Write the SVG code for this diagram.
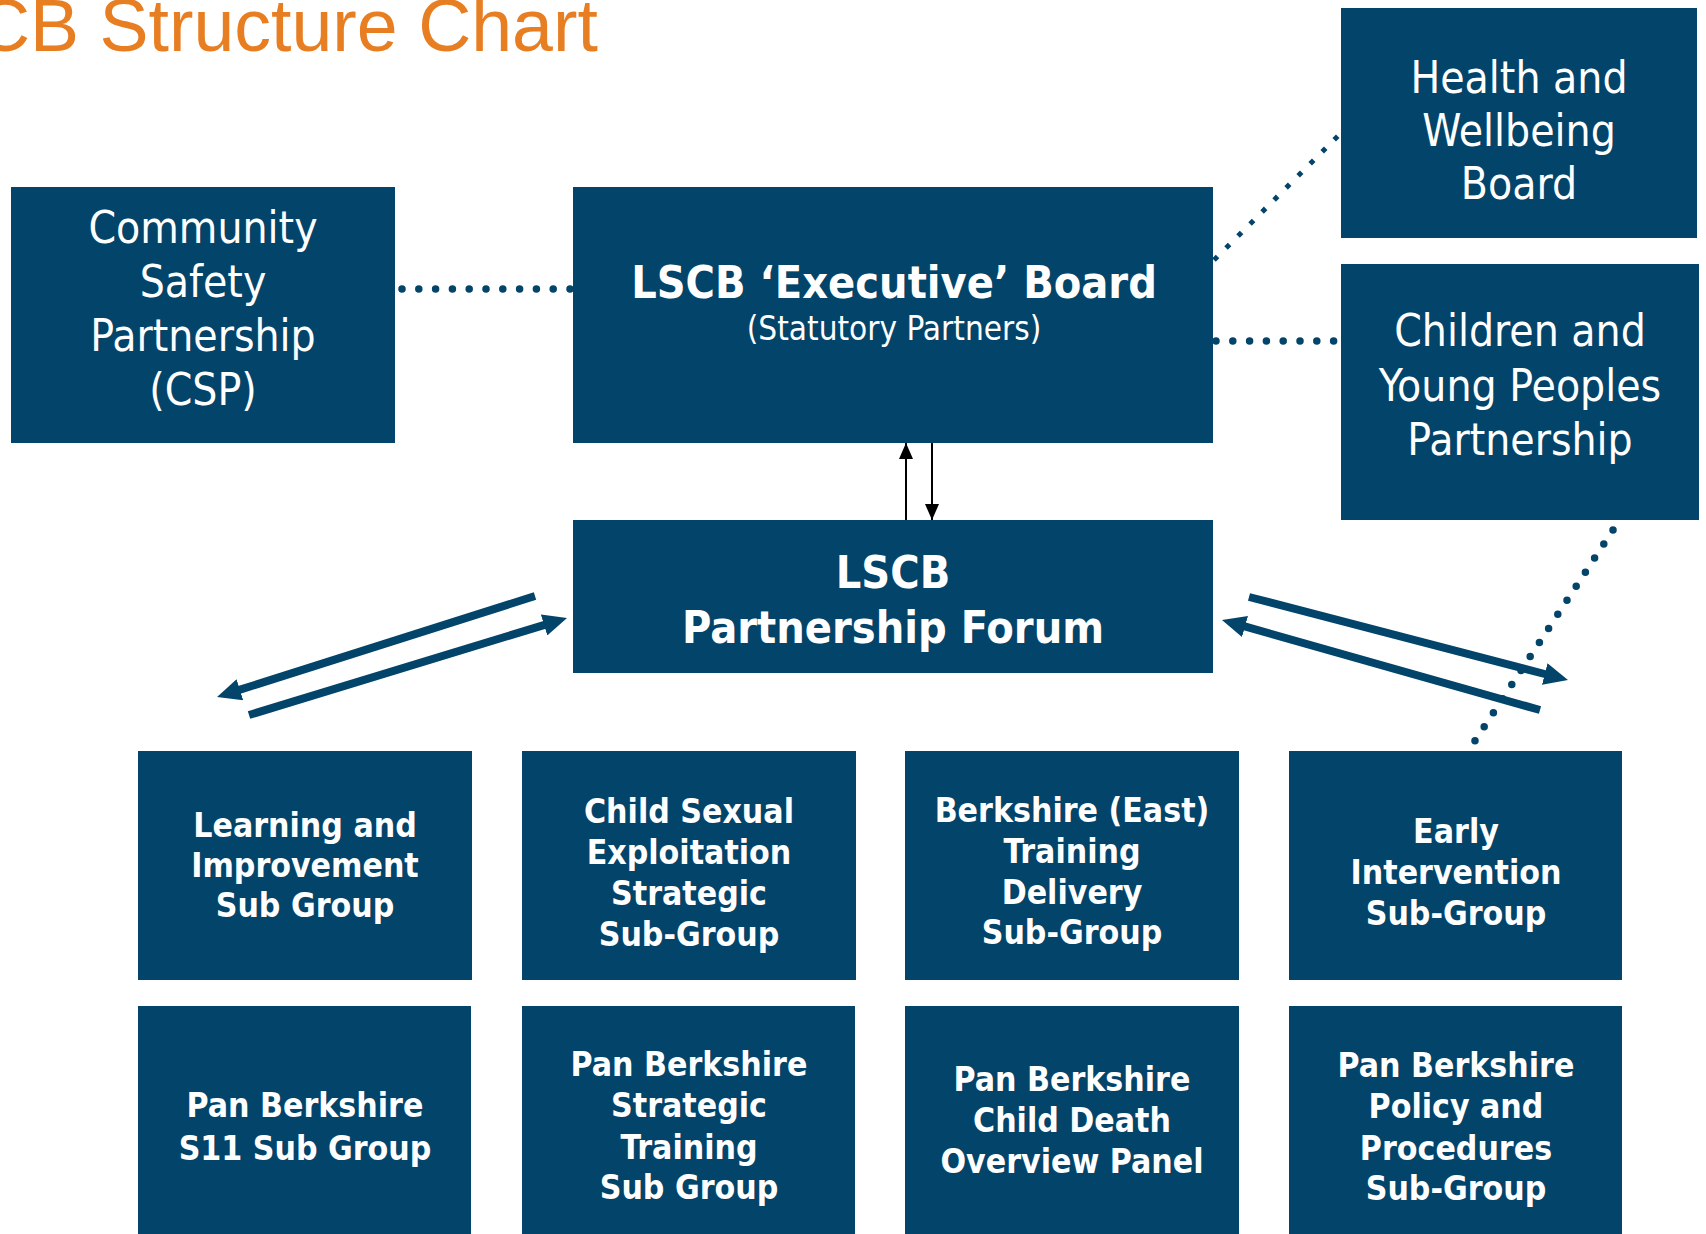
<svg xmlns="http://www.w3.org/2000/svg" width="1706" height="1234" viewBox="0 0 1706 1234">
<defs>
<style>
.box{fill:#03446A}
.t{fill:#fff;font-family:'DejaVu Sans Condensed','DejaVu Sans',sans-serif;text-anchor:middle}
.r{font-size:44px}
.s{font-size:33px}
.b{font-weight:bold;font-size:33.5px}
.h{font-weight:bold;font-size:44.6px}
.dotR{stroke:#03446A;stroke-width:7.5;stroke-linecap:round;stroke-dasharray:0 16.8;fill:none}
.dotS{stroke:#03446A;stroke-width:5;stroke-dasharray:5 12;fill:none}
.thick{stroke:#03446A;stroke-width:8;fill:none;marker-end:url(#bigArrow)}
.thin{stroke:#000;stroke-width:2;fill:none;marker-end:url(#smallArrow)}
</style>
<marker id="bigArrow" markerUnits="userSpaceOnUse" viewBox="0 0 24 22" markerWidth="24" markerHeight="22" refX="4" refY="11" orient="auto">
<path d="M0,0 L24,11 L0,22 z" fill="#03446A"/>
</marker>
<marker id="smallArrow" markerUnits="userSpaceOnUse" viewBox="0 0 16 14" markerWidth="16" markerHeight="14" refX="16" refY="7" orient="auto">
<path d="M0,0 L16,7 L0,14 z" fill="#000"/>
</marker>
</defs>
<rect width="1706" height="1234" fill="#fff"/>
<text x="-23" y="51" font-family="'Liberation Sans',Arial,sans-serif" font-size="73.5" fill="#E87E22">CB Structure Chart</text>

<g id="connectors">
<path class="dotR" d="M402,289 L573,289"/>
<path class="dotS" d="M1214,260 L1340,134"/>
<path class="dotR" d="M1216,341 L1341,341"/>
<path class="dotR" d="M1613,530 L1469,750"/>
<path class="thin" d="M906,520 L906,443"/>
<path class="thin" d="M932,443 L932,520"/>
<path class="thick" d="M535,596 L236.1,690.9"/>
<path class="thick" d="M249,715 L547.9,623.8"/>
<path class="thick" d="M1249,597 L1548.6,675"/>
<path class="thick" d="M1540,710 L1241.2,625.4"/>
</g>

<g id="csp">
<rect class="box" x="11" y="187" width="384" height="256"/>
<text class="t r" x="203" y="243">Community</text>
<text class="t r" x="203" y="297">Safety</text>
<text class="t r" x="203" y="351">Partnership</text>
<text class="t r" x="203" y="405">(CSP)</text>
</g>

<g id="executive-board">
<rect class="box" x="573" y="187" width="640" height="256"/>
<text class="t h" x="894" y="298">LSCB ‘Executive’ Board</text>
<text class="t s" x="894" y="340">(Statutory Partners)</text>
</g>

<g id="hwb">
<rect class="box" x="1341" y="8" width="356" height="230"/>
<text class="t r" x="1519" y="93">Health and</text>
<text class="t r" x="1519" y="146">Wellbeing</text>
<text class="t r" x="1519" y="199">Board</text>
</g>

<g id="cypp">
<rect class="box" x="1341" y="264" width="358" height="256"/>
<text class="t r" x="1520" y="346">Children and</text>
<text class="t r" x="1520" y="401">Young Peoples</text>
<text class="t r" x="1520" y="455">Partnership</text>
</g>

<g id="forum">
<rect class="box" x="573" y="520" width="640" height="153"/>
<text class="t h" x="893" y="588">LSCB</text>
<text class="t h" x="893" y="643">Partnership Forum</text>
</g>

<g id="learning">
<rect class="box" x="138" y="751" width="334" height="229"/>
<text class="t b" x="305" y="837">Learning and</text>
<text class="t b" x="305" y="877">Improvement</text>
<text class="t b" x="305" y="917">Sub Group</text>
</g>

<g id="cse">
<rect class="box" x="522" y="751" width="334" height="229"/>
<text class="t b" x="689" y="823">Child Sexual</text>
<text class="t b" x="689" y="864">Exploitation</text>
<text class="t b" x="689" y="905">Strategic</text>
<text class="t b" x="689" y="946">Sub-Group</text>
</g>

<g id="berkshire-east">
<rect class="box" x="905" y="751" width="334" height="229"/>
<text class="t b" x="1072" y="822">Berkshire (East)</text>
<text class="t b" x="1072" y="863">Training</text>
<text class="t b" x="1072" y="904">Delivery</text>
<text class="t b" x="1072" y="944">Sub-Group</text>
</g>

<g id="early-intervention">
<rect class="box" x="1289" y="751" width="333" height="229"/>
<text class="t b" x="1456" y="843">Early</text>
<text class="t b" x="1456" y="884">Intervention</text>
<text class="t b" x="1456" y="925">Sub-Group</text>
</g>

<g id="s11">
<rect class="box" x="138" y="1006" width="333" height="240"/>
<text class="t b" x="305" y="1117">Pan Berkshire</text>
<text class="t b" x="305" y="1160">S11 Sub Group</text>
</g>

<g id="strategic-training">
<rect class="box" x="522" y="1006" width="333" height="240"/>
<text class="t b" x="689" y="1076">Pan Berkshire</text>
<text class="t b" x="689" y="1117">Strategic</text>
<text class="t b" x="689" y="1159">Training</text>
<text class="t b" x="689" y="1199">Sub Group</text>
</g>

<g id="cdop">
<rect class="box" x="905" y="1006" width="334" height="240"/>
<text class="t b" x="1072" y="1091">Pan Berkshire</text>
<text class="t b" x="1072" y="1132">Child Death</text>
<text class="t b" x="1072" y="1173">Overview Panel</text>
</g>

<g id="policy-procedures">
<rect class="box" x="1289" y="1006" width="333" height="240"/>
<text class="t b" x="1456" y="1077">Pan Berkshire</text>
<text class="t b" x="1456" y="1118">Policy and</text>
<text class="t b" x="1456" y="1160">Procedures</text>
<text class="t b" x="1456" y="1200">Sub-Group</text>
</g>
</svg>
